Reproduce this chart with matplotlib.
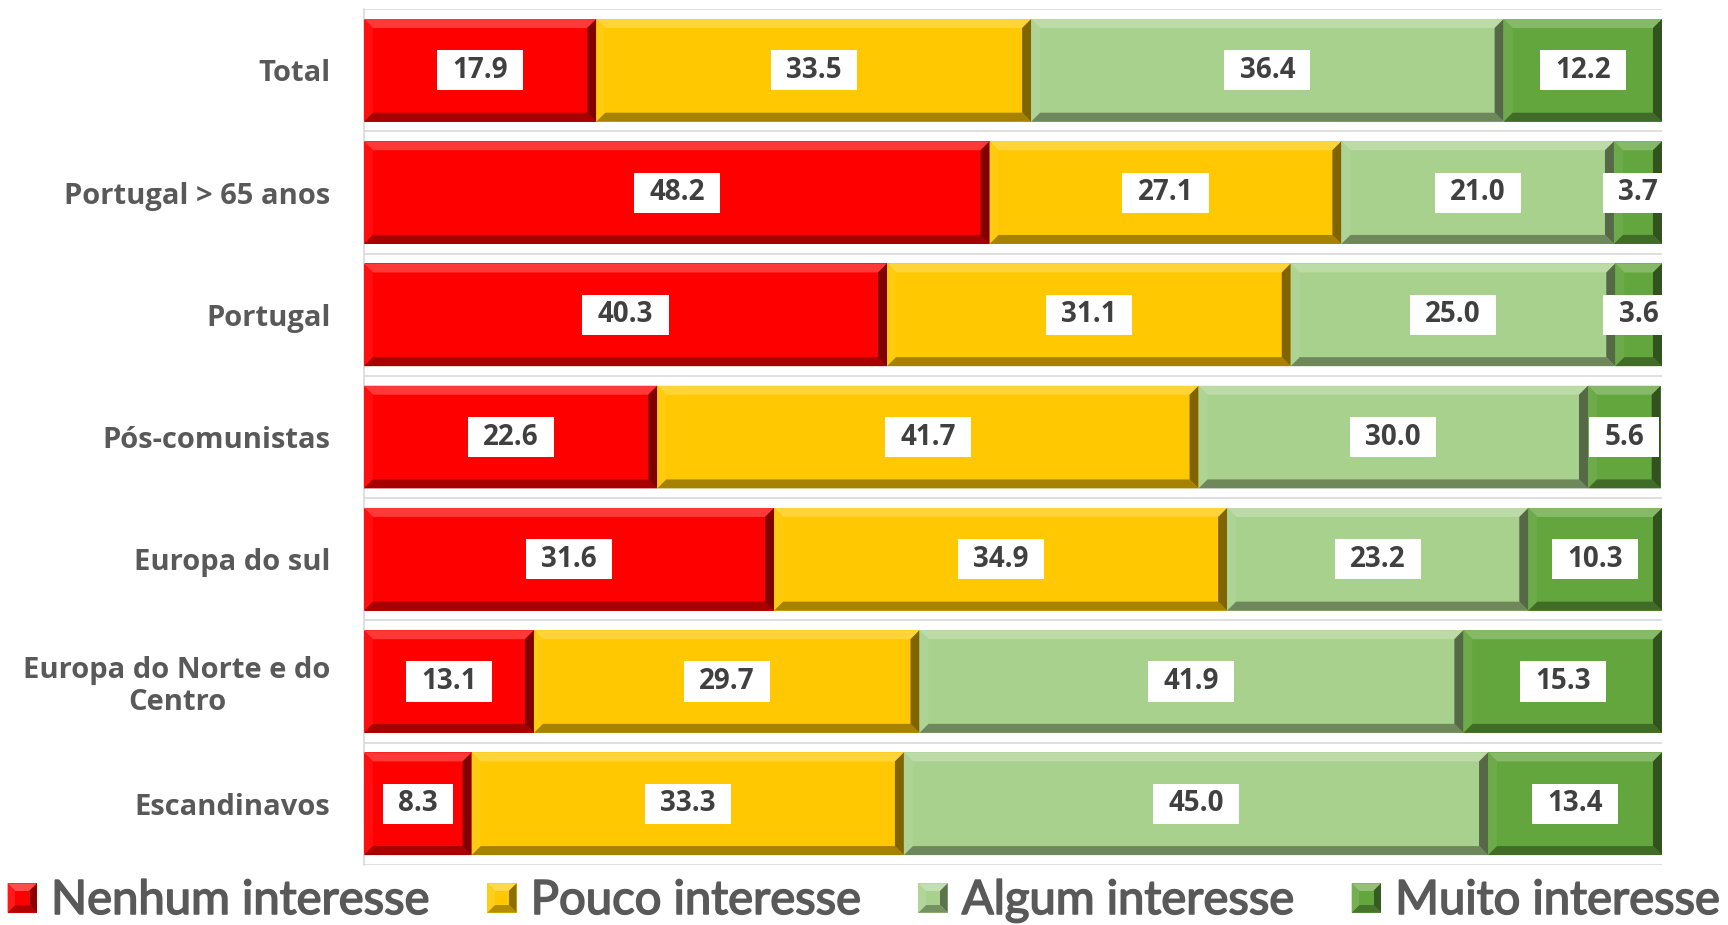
import matplotlib
matplotlib.use("Agg")
import matplotlib.pyplot as plt
from matplotlib.patches import Polygon, Rectangle
from matplotlib.path import Path
from matplotlib.legend_handler import HandlerBase
import matplotlib.colors as mcolors
import matplotlib.patheffects as pe
import numpy as np

categories = ["Total", "Portugal > 65 anos", "Portugal", "Pós-comunistas",
              "Europa do sul", "Europa do Norte e do\nCentro", "Escandinavos"]
series_names = ["Nenhum interesse", "Pouco interesse", "Algum interesse", "Muito interesse"]
nenhum = [17.9, 48.2, 40.3, 22.6, 31.6, 13.1, 8.3]
pouco = [33.5, 27.1, 31.1, 41.7, 34.9, 29.7, 33.3]
algum = [36.4, 21.0, 25.0, 30.0, 23.2, 41.9, 45.0]
muito = [12.2, 3.7, 3.6, 5.6, 10.3, 15.3, 13.4]
colors = ["#FF0000", "#FFC800", "#A9D18E", "#64A63E"]

TEXT = "#595959"
FONT = "Open Sans"

W, H = 17.28, 9.25
fig = plt.figure(figsize=(W, H), dpi=100)
ax_l, ax_b, ax_w, ax_h = 0.2106, 0.065, 0.7512, 0.925
ax = fig.add_axes([ax_l, ax_b, ax_w, ax_h])

y = np.arange(len(categories))
bar_h = 0.84
ax.set_xlim(0, 100)
ax.set_ylim(len(categories) - 0.5, -0.5)

px_x = 100.0 / (ax_w * W * 100)
px_y = len(categories) / (ax_h * H * 100)
BEV = 9


def mix(c, other, t):
    a = np.array(mcolors.to_rgb(c))
    b = np.array(mcolors.to_rgb(other))
    return tuple(a * (1 - t) + b * t)


def label_box(x0, y0, width, height, mutation_size):
    px = 0.55 * mutation_size
    py = 0.2 * mutation_size
    x0, y0 = x0 - px, y0 - py
    x1, y1 = x0 + width + 2 * px, y0 + height + 2 * py
    return Path([(x0, y0), (x1, y0), (x1, y1), (x0, y1), (x0, y0)], closed=True)


def add_bevel(axis, x0, yt, w, h, color, bx, by):
    x1 = x0 + w
    yb = yt + h
    ix0, ix1 = x0 + bx, x1 - bx
    if ix1 < ix0:
        ix0 = ix1 = (x0 + x1) / 2
    iyt, iyb = yt + by, yb - by
    top = [(x0, yt), (x1, yt), (ix1, iyt), (ix0, iyt)]
    bot = [(x0, yb), (x1, yb), (ix1, iyb), (ix0, iyb)]
    left = [(x0, yt), (ix0, iyt), (ix0, iyb), (x0, yb)]
    right = [(x1, yt), (ix1, iyt), (ix1, iyb), (x1, yb)]
    for pts, col in [(top, mix(color, "white", 0.22)),
                     (left, mix(color, "white", 0.06)),
                     (bot, mix(color, "black", 0.35)),
                     (right, mix(color, "black", 0.5))]:
        axis.add_patch(Polygon(pts, closed=True, facecolor=col, edgecolor="none", zorder=3))


left = np.zeros(len(categories))
for vals, col in zip([nenhum, pouco, algum, muito], colors):
    bars = ax.barh(y, vals, left=left, height=bar_h, color=col, edgecolor="none", zorder=2)
    for p, v in zip(bars.patches, vals):
        add_bevel(ax, p.get_x(), p.get_y(), p.get_width(), p.get_height(), col,
                  BEV * px_x, BEV * px_y)
        cx = p.get_x() + p.get_width() / 2
        cy = p.get_y() + p.get_height() / 2
        ax.text(cx, cy, f"{v:.1f}", ha="center", va="center", fontsize=20,
                fontweight="bold", color="#404040", family=FONT, zorder=5,
                bbox=dict(boxstyle=label_box, facecolor="white", edgecolor="none"))
    left = left + np.array(vals)

for b in np.arange(-0.5, len(categories), 1.0):
    ax.axhline(b, color="#D9D9D9", lw=1.2, zorder=1)

ax.set_yticks(y)
ax.set_yticklabels(categories, fontsize=21, fontweight="bold", color=TEXT, family=FONT)
for lab in ax.get_yticklabels():
    lab.set_multialignment("center")
    lab.set_linespacing(1.15)
ax.tick_params(axis="y", length=0, pad=24)
ax.set_xticks([])
for s in ["top", "right", "bottom"]:
    ax.spines[s].set_visible(False)
ax.spines["left"].set_color("#D9D9D9")
ax.spines["left"].set_linewidth(1.2)


class BevelHandler(HandlerBase):
    def create_artists(self, legend, orig_handle, xdescent, ydescent, width, height, fontsize, trans):
        col = orig_handle.get_facecolor()
        x0, y0 = -xdescent, -ydescent
        s = min(width, height)
        x0 = x0 + (width - s) / 2
        cxy = (x0 + s / 2, y0 + s / 2)
        arts = [Rectangle((x0, y0), s, s, facecolor=col, edgecolor="none", transform=trans)]
        ox = [(x0, y0 + s), (x0 + s, y0 + s), (x0 + s, y0), (x0, y0)]
        shades = [mix(col, "white", 0.3), mix(col, "black", 0.45),
                  mix(col, "black", 0.3), mix(col, "white", 0.1)]
        for i in range(4):
            a, c = ox[i], ox[(i + 1) % 4]
            arts.append(Polygon([a, c, cxy], closed=True, facecolor=shades[i],
                                edgecolor="none", transform=trans))
        inner = s * 0.25
        arts.append(Rectangle((x0 + inner, y0 + inner), s - 2 * inner, s - 2 * inner,
                              facecolor=col, edgecolor="none", transform=trans))
        return arts


handles = [Rectangle((0, 0), 1, 1, facecolor=c) for c in colors]
leg = fig.legend(handles, series_names, loc="center", bbox_to_anchor=(0.5, 0.026),
                 ncol=4, frameon=False, handlelength=0.62, handleheight=0.62,
                 handletextpad=0.3, columnspacing=1.2,
                 handler_map={Rectangle: BevelHandler()},
                 prop={"family": "Lato", "size": 34})
for t in leg.get_texts():
    t.set_color(TEXT)
    t.set_path_effects([pe.withStroke(linewidth=1.2, foreground=TEXT)])

fig.savefig("out.png", dpi=100)
